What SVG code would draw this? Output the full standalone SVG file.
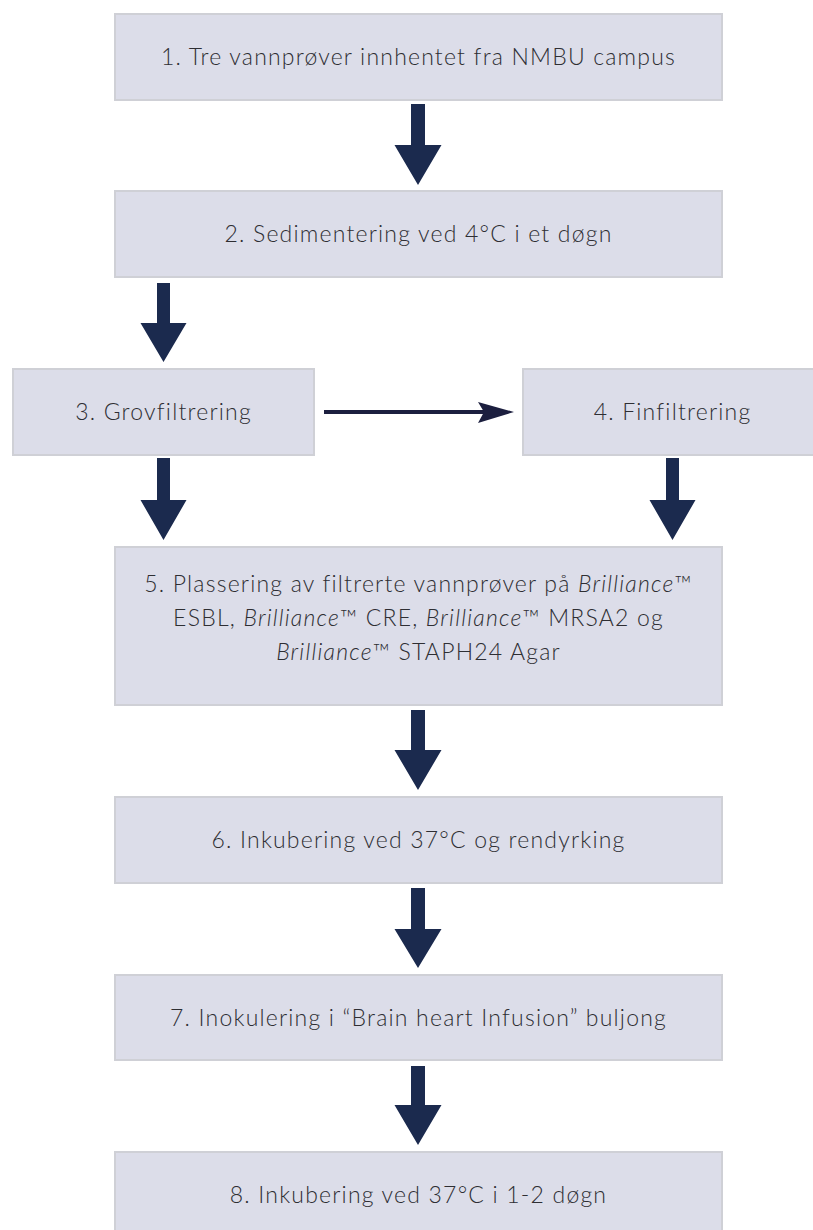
<svg xmlns="http://www.w3.org/2000/svg" width="813" height="1230" viewBox="0 0 813 1230">
<style>
.box{fill:#dcdde9;stroke:#cfd0d6;stroke-width:2}
.t{font-family:Lato,"Liberation Sans",sans-serif;font-weight:300;font-size:23px;letter-spacing:1.2px;fill:#2e2e33;text-anchor:middle}
.i{font-style:italic}
.blk{fill:#1b2a4e}
.thin{stroke:#1c1f3f;stroke-width:4;fill:none}
</style>
<rect width="813" height="1230" fill="#ffffff"/>
<g id="connectors">
<path class="blk" d="M411,104 H425 V145 H441.5 L418,185 L394.5,145 H411 Z"/>
<path class="blk" d="M157,283 H170 V323 H186.5 L163.5,362 L140.5,323 H157 Z"/>
<path class="blk" d="M157,458 H170 V500 H186.5 L163.5,540 L140.5,500 H157 Z"/>
<path class="blk" d="M666,458 H679 V500 H695.5 L672.5,540 L649.5,500 H666 Z"/>
<path class="blk" d="M411,710 H425 V750 H441.5 L418,790 L394.5,750 H411 Z"/>
<path class="blk" d="M411,888 H425 V929 H441.5 L418,968 L394.5,929 H411 Z"/>
<path class="blk" d="M411,1066 H425 V1105 H441.5 L418,1145 L394.5,1105 H411 Z"/>
<line class="thin" x1="324" y1="412" x2="495" y2="412"/>
<path fill="#1c1f3f" d="M478,402 L514,412 L478,423 L484,412 Z"/>
</g>
<g id="n1"><rect class="box" x="115" y="14" width="607" height="86"/><text class="t" x="418.5" y="65">1. Tre vannprøver innhentet fra NMBU campus</text></g>
<g id="n2"><rect class="box" x="115" y="191" width="607" height="86"/><text class="t" x="418.5" y="242">2. Sedimentering ved 4°C i et døgn</text></g>
<g id="n3"><rect class="box" x="13" y="369" width="301" height="86"/><text class="t" x="163.5" y="420">3. Grovfiltrering</text></g>
<g id="n4"><rect class="box" x="523" y="369" width="300" height="86"/><text class="t" x="672.5" y="420">4. Finfiltrering</text></g>
<g id="n5"><rect class="box" x="115" y="547" width="607" height="158"/>
<text class="t" x="418.5" y="592">5. Plassering av filtrerte vannprøver på <tspan class="i">Brilliance</tspan>™</text>
<text class="t" x="418.5" y="626">ESBL, <tspan class="i">Brilliance</tspan>™ CRE, <tspan class="i">Brilliance</tspan>™ MRSA2 og</text>
<text class="t" x="418.5" y="660"><tspan class="i">Brilliance</tspan>™ STAPH24 Agar</text></g>
<g id="n6"><rect class="box" x="115" y="797" width="607" height="86"/><text class="t" x="418.5" y="848">6. Inkubering ved 37°C og rendyrking</text></g>
<g id="n7"><rect class="box" x="115" y="975" width="607" height="85"/><text class="t" x="418.5" y="1026">7. Inokulering i “Brain heart Infusion” buljong</text></g>
<g id="n8"><rect class="box" x="115" y="1152" width="607" height="90"/><text class="t" x="418.5" y="1203">8. Inkubering ved 37°C i 1-2 døgn</text></g>
</svg>
